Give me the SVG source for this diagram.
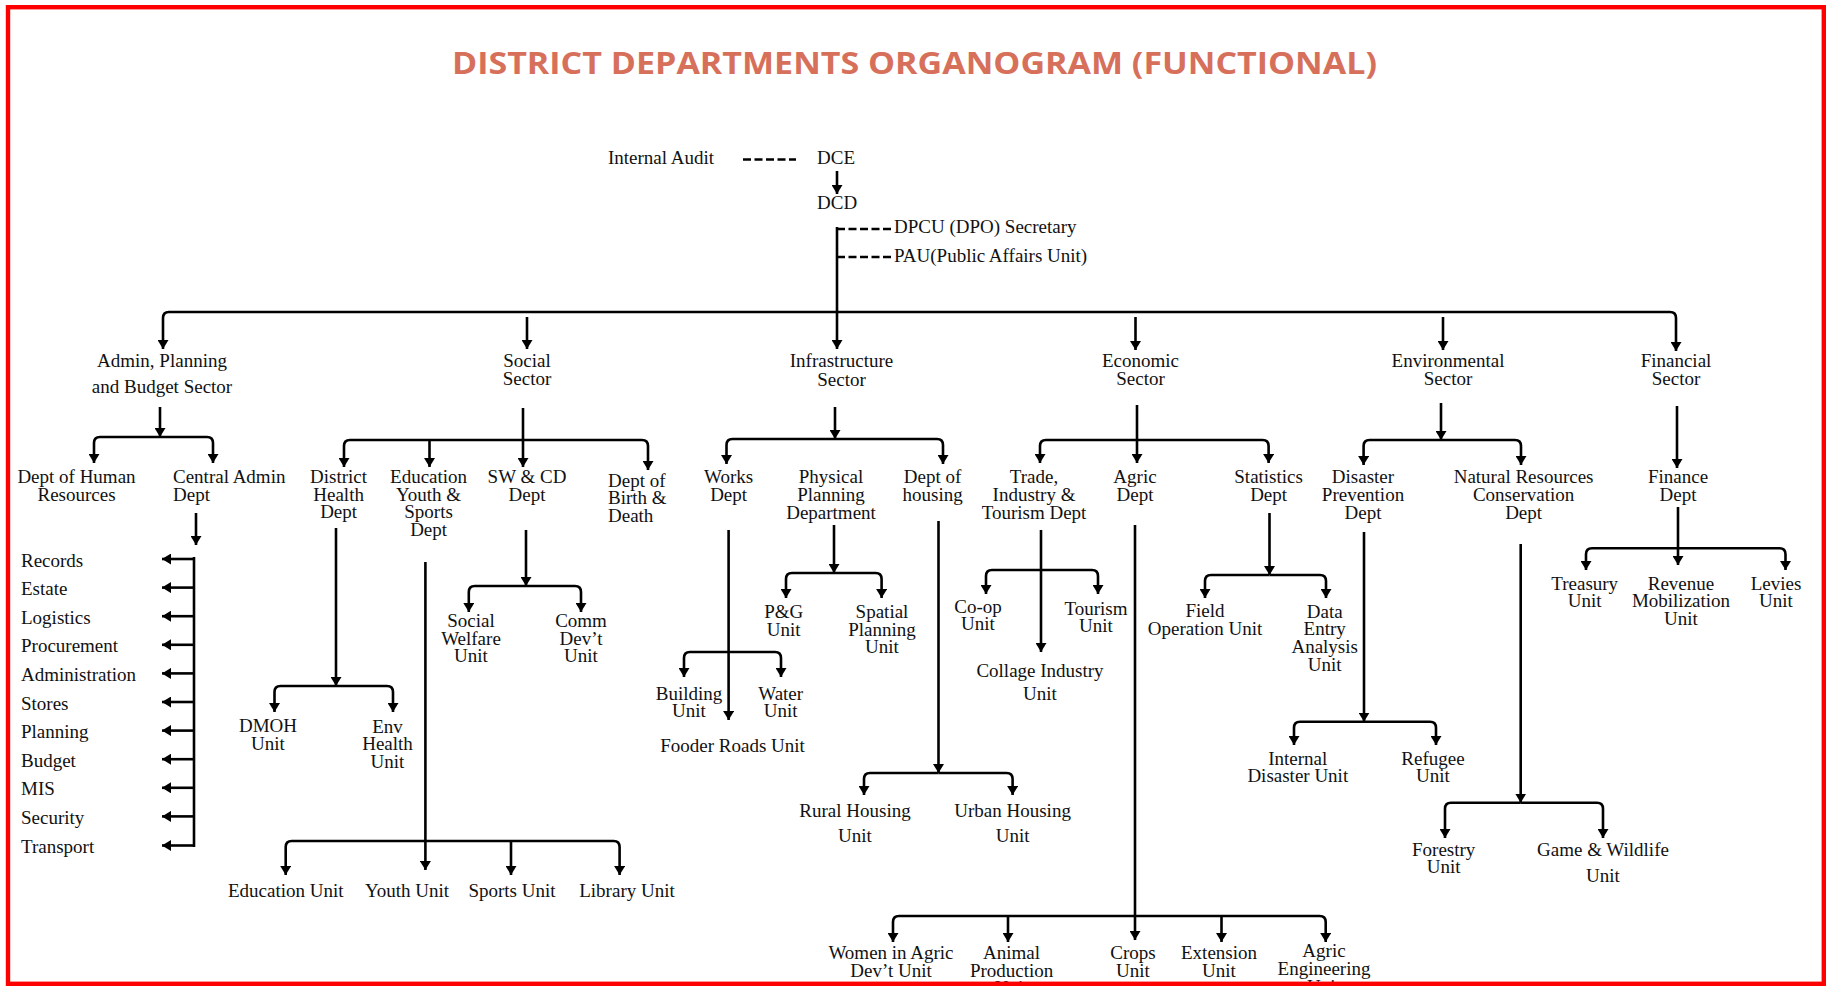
<svg xmlns="http://www.w3.org/2000/svg" width="1830" height="986" viewBox="0 0 1830 986">
<style>
text{font-family:"Liberation Serif","Times New Roman",serif;font-size:19px;fill:#111}
.m{text-anchor:middle}
.title{font-family:"Open Sans","Liberation Sans",sans-serif;font-weight:700;font-size:30px;fill:#D7705B}
.c{fill:none;stroke:#000;stroke-width:2.6}
.d{fill:none;stroke:#000;stroke-width:2.6;stroke-dasharray:8 3.5}
.a{marker-end:url(#ah)}
</style>
<defs>
<marker id="ah" markerUnits="userSpaceOnUse" markerWidth="11" markerHeight="11" refX="9" refY="5.5" orient="auto">
<path d="M0,0 L9,5.5 L0,11 Z" fill="#000"/>
</marker>
<clipPath id="clip"><rect x="0" y="0" width="1830" height="982"/></clipPath>
</defs>
<rect x="0" y="0" width="1830" height="986" fill="#fff"/>
<g clip-path="url(#clip)">
<text id="title" class="title m" x="914.5" y="74" textLength="925" lengthAdjust="spacingAndGlyphs">DISTRICT DEPARTMENTS ORGANOGRAM (FUNCTIONAL)</text>

<g id="connectors">
<path class="d" d="M743,159.5 H796"/>
<path class="c a" d="M837,171 V194"/>
<path class="d" d="M837,229 H891"/>
<path class="d" d="M837,257 H891"/>
<path class="c a" d="M837,227 V349"/>
<path class="c a" d="M837,312 H169 Q163,312 163,318 V349"/>
<path class="c a" d="M837,312 H1670 Q1676,312 1676,318 V351"/>
<path class="c a" d="M527,317 V349"/>
<path class="c a" d="M1135.5,317 V350"/>
<path class="c a" d="M1443,317 V350"/>

<!-- Admin -->
<path class="c a" d="M160,407 V437"/>
<path class="c a" d="M160,437 H100 Q94,437 94,443 V463"/>
<path class="c a" d="M160,437 H207 Q213,437 213,443 V463"/>
<path class="c a" d="M196,513 V545"/>
<path class="c" d="M194,557 V847"/>
<path class="c a" d="M194,559 H162"/>
<path class="c a" d="M194,587.6 H162"/>
<path class="c a" d="M194,616.2 H162"/>
<path class="c a" d="M194,644.8 H162"/>
<path class="c a" d="M194,673.4 H162"/>
<path class="c a" d="M194,702 H162"/>
<path class="c a" d="M194,730.6 H162"/>
<path class="c a" d="M194,759.2 H162"/>
<path class="c a" d="M194,787.8 H162"/>
<path class="c a" d="M194,816.4 H162"/>
<path class="c a" d="M194,845.5 H162"/>

<!-- Social -->
<path class="c a" d="M523,408 V467"/>
<path class="c a" d="M523,440 H350 Q344,440 344,446 V467"/>
<path class="c a" d="M523,440 H642 Q648,440 648,446 V470"/>
<path class="c a" d="M429.5,440 V467"/>
<path class="c a" d="M336,528 V686"/>
<path class="c a" d="M336,686 H280.5 Q274.5,686 274.5,692 V712"/>
<path class="c a" d="M336,686 H387 Q393,686 393,692 V712"/>
<path class="c a" d="M425.4,562 V870"/>
<path class="c a" d="M425.4,841 H291.7 Q285.7,841 285.7,847 V875"/>
<path class="c a" d="M425.4,841 H613.6 Q619.6,841 619.6,847 V875"/>
<path class="c a" d="M511,841 V875"/>
<path class="c a" d="M526,530 V586"/>
<path class="c a" d="M526,586 H474.8 Q468.8,586 468.8,592 V612"/>
<path class="c a" d="M526,586 H575 Q581,586 581,592 V612"/>

<!-- Infrastructure -->
<path class="c a" d="M835,407 V439"/>
<path class="c a" d="M835,439 H732.5 Q726.5,439 726.5,445 V464"/>
<path class="c a" d="M835,439 H937 Q943,439 943,445 V464"/>
<path class="c a" d="M728.6,530 V720"/>
<path class="c a" d="M728.6,652 H690 Q684,652 684,658 V677"/>
<path class="c a" d="M728.6,652 H775 Q781,652 781,658 V677"/>
<path class="c a" d="M834,525 V573"/>
<path class="c a" d="M834,573 H792 Q786,573 786,579 V598"/>
<path class="c a" d="M834,573 H875.6 Q881.6,573 881.6,579 V598"/>
<path class="c a" d="M938.5,521 V773"/>
<path class="c a" d="M938.5,773 H870 Q864,773 864,779 V795"/>
<path class="c a" d="M938.5,773 H1006.6 Q1012.6,773 1012.6,779 V795"/>

<!-- Economic -->
<path class="c a" d="M1137,405 V463"/>
<path class="c a" d="M1137,440 H1046 Q1040,440 1040,446 V463"/>
<path class="c a" d="M1137,440 H1262.6 Q1268.6,440 1268.6,446 V463"/>
<path class="c a" d="M1041,530 V652"/>
<path class="c a" d="M1041,570 H992 Q986,570 986,576 V594"/>
<path class="c a" d="M1041,570 H1092 Q1098,570 1098,576 V594"/>
<path class="c a" d="M1135,525 V940"/>
<path class="c a" d="M1135,916 H899 Q893,916 893,922 V942"/>
<path class="c a" d="M1135,916 H1319.7 Q1325.7,916 1325.7,922 V942"/>
<path class="c a" d="M1008,916 V942"/>
<path class="c a" d="M1221.5,916 V942"/>
<path class="c a" d="M1269.5,513 V575"/>
<path class="c a" d="M1269.5,575 H1211 Q1205,575 1205,581 V598"/>
<path class="c a" d="M1269.5,575 H1320 Q1326,575 1326,581 V598"/>

<!-- Environmental -->
<path class="c a" d="M1441,403 V440"/>
<path class="c a" d="M1441,440 H1369.6 Q1363.6,440 1363.6,446 V465"/>
<path class="c a" d="M1441,440 H1515 Q1521,440 1521,446 V465"/>
<path class="c a" d="M1364,532 V721.7"/>
<path class="c a" d="M1364,721.7 H1300 Q1294,721.7 1294,727.7 V745"/>
<path class="c a" d="M1364,721.7 H1430 Q1436,721.7 1436,727.7 V745"/>
<path class="c a" d="M1520.7,544 V802.7"/>
<path class="c a" d="M1520.7,802.7 H1451 Q1445,802.7 1445,808.7 V838"/>
<path class="c a" d="M1520.7,802.7 H1597 Q1603,802.7 1603,808.7 V838"/>

<!-- Financial -->
<path class="c a" d="M1677,406 V468"/>
<path class="c a" d="M1678,507 V565"/>
<path class="c a" d="M1678,548.3 H1592 Q1586,548.3 1586,554.3 V570"/>
<path class="c a" d="M1678,548.3 H1779.5 Q1785.5,548.3 1785.5,554.3 V570"/>
</g>

<g id="internal-audit"><text x="608" y="164">Internal Audit</text></g>
<g id="dce"><text x="817" y="164">DCE</text></g>
<g id="dcd"><text x="817" y="209">DCD</text></g>
<g id="dpcu"><text x="894" y="233">DPCU (DPO) Secretary</text></g>
<g id="pau"><text x="894" y="262">PAU(Public Affairs Unit)</text></g>

<g id="admin-sector"><text class="m" x="162" y="366.5">Admin, Planning</text><text class="m" x="162" y="392.5">and Budget Sector</text></g>
<g id="social-sector"><text class="m" x="527" y="366.5">Social</text><text class="m" x="527" y="385">Sector</text></g>
<g id="infrastructure-sector"><text class="m" x="841.5" y="367">Infrastructure</text><text class="m" x="841.5" y="385.5">Sector</text></g>
<g id="economic-sector"><text class="m" x="1140.5" y="366.5">Economic</text><text class="m" x="1140.5" y="385">Sector</text></g>
<g id="environmental-sector"><text class="m" x="1448" y="366.5">Environmental</text><text class="m" x="1448" y="385">Sector</text></g>
<g id="financial-sector"><text class="m" x="1676" y="366.5">Financial</text><text class="m" x="1676" y="385">Sector</text></g>

<g id="hr-dept"><text class="m" x="76.5" y="483">Dept of Human</text><text class="m" x="76.5" y="500.5">Resources</text></g>
<g id="central-admin"><text x="173" y="483">Central Admin</text><text x="173" y="500.5">Dept</text></g>
<g id="records"><text x="21" y="566.5">Records</text></g>
<g id="estate"><text x="21" y="595.1">Estate</text></g>
<g id="logistics"><text x="21" y="623.7">Logistics</text></g>
<g id="procurement"><text x="21" y="652.3">Procurement</text></g>
<g id="administration"><text x="21" y="680.9">Administration</text></g>
<g id="stores"><text x="21" y="709.5">Stores</text></g>
<g id="planning"><text x="21" y="738.1">Planning</text></g>
<g id="budget"><text x="21" y="766.7">Budget</text></g>
<g id="mis"><text x="21" y="795.3">MIS</text></g>
<g id="security"><text x="21" y="823.9">Security</text></g>
<g id="transport"><text x="21" y="852.5">Transport</text></g>

<g id="district-health"><text class="m" x="338.6" y="483">District</text><text class="m" x="338.6" y="500.5">Health</text><text class="m" x="338.6" y="518">Dept</text></g>
<g id="education-dept"><text class="m" x="428.6" y="483">Education</text><text class="m" x="428.6" y="500.5">Youth &amp;</text><text class="m" x="428.6" y="518">Sports</text><text class="m" x="428.6" y="535.5">Dept</text></g>
<g id="swcd-dept"><text class="m" x="527" y="483">SW &amp; CD</text><text class="m" x="527" y="500.5">Dept</text></g>
<g id="birth-death"><text x="608" y="486.7">Dept of</text><text x="608" y="504.2">Birth &amp;</text><text x="608" y="521.7">Death</text></g>
<g id="dmoh"><text class="m" x="268" y="732">DMOH</text><text class="m" x="268" y="749.5">Unit</text></g>
<g id="env-health"><text class="m" x="387.5" y="732.5">Env</text><text class="m" x="387.5" y="750">Health</text><text class="m" x="387.5" y="767.5">Unit</text></g>
<g id="social-welfare"><text class="m" x="471" y="627.3">Social</text><text class="m" x="471" y="644.8">Welfare</text><text class="m" x="471" y="662.3">Unit</text></g>
<g id="comm-dev"><text class="m" x="581" y="627.3">Comm</text><text class="m" x="581" y="644.8">Dev’t</text><text class="m" x="581" y="662.3">Unit</text></g>
<g id="education-unit"><text class="m" x="285.7" y="897.3">Education Unit</text></g>
<g id="youth-unit"><text class="m" x="407" y="897.3">Youth Unit</text></g>
<g id="sports-unit"><text class="m" x="512" y="897.3">Sports Unit</text></g>
<g id="library-unit"><text class="m" x="627" y="897.3">Library Unit</text></g>

<g id="works-dept"><text class="m" x="728.6" y="483">Works</text><text class="m" x="728.6" y="500.5">Dept</text></g>
<g id="physical-planning"><text class="m" x="831" y="483">Physical</text><text class="m" x="831" y="500.5">Planning</text><text class="m" x="831" y="518.5">Department</text></g>
<g id="housing-dept"><text class="m" x="932.6" y="483">Dept of</text><text class="m" x="932.6" y="500.5">housing</text></g>
<g id="building-unit"><text class="m" x="689" y="700">Building</text><text class="m" x="689" y="717">Unit</text></g>
<g id="water-unit"><text class="m" x="780.7" y="700">Water</text><text class="m" x="780.7" y="717">Unit</text></g>
<g id="fooder-roads"><text class="m" x="732.6" y="751.7">Fooder Roads Unit</text></g>
<g id="pg-unit"><text class="m" x="783.7" y="617.7">P&amp;G</text><text class="m" x="783.7" y="635.5">Unit</text></g>
<g id="spatial-planning"><text class="m" x="882" y="617.7">Spatial</text><text class="m" x="882" y="635.5">Planning</text><text class="m" x="882" y="653.3">Unit</text></g>
<g id="rural-housing"><text class="m" x="855" y="816.7">Rural Housing</text><text class="m" x="855" y="841.7">Unit</text></g>
<g id="urban-housing"><text class="m" x="1012.6" y="816.7">Urban Housing</text><text class="m" x="1012.6" y="841.7">Unit</text></g>

<g id="trade-dept"><text class="m" x="1034" y="483">Trade,</text><text class="m" x="1034" y="500.5">Industry &amp;</text><text class="m" x="1034" y="518.5">Tourism Dept</text></g>
<g id="agric-dept"><text class="m" x="1135" y="483">Agric</text><text class="m" x="1135" y="500.5">Dept</text></g>
<g id="statistics-dept"><text class="m" x="1268.6" y="483">Statistics</text><text class="m" x="1268.6" y="500.5">Dept</text></g>
<g id="coop-unit"><text class="m" x="978" y="612.7">Co-op</text><text class="m" x="978" y="629.5">Unit</text></g>
<g id="tourism-unit"><text class="m" x="1096" y="615">Tourism</text><text class="m" x="1096" y="631.7">Unit</text></g>
<g id="collage-industry"><text class="m" x="1040" y="676.7">Collage Industry</text><text class="m" x="1040" y="700">Unit</text></g>
<g id="field-operation"><text class="m" x="1205" y="616.7">Field</text><text class="m" x="1205" y="635">Operation Unit</text></g>
<g id="data-entry"><text class="m" x="1324.7" y="617.7">Data</text><text class="m" x="1324.7" y="635.2">Entry</text><text class="m" x="1324.7" y="653">Analysis</text><text class="m" x="1324.7" y="671">Unit</text></g>
<g id="women-agric"><text class="m" x="891" y="959.3">Women in Agric</text><text class="m" x="891" y="976.7">Dev’t Unit</text></g>
<g id="animal-production"><text class="m" x="1011.6" y="959.3">Animal</text><text class="m" x="1011.6" y="976.7">Production</text><text class="m" x="1011.6" y="994">Unit</text></g>
<g id="crops-unit"><text class="m" x="1133" y="959.3">Crops</text><text class="m" x="1133" y="976.7">Unit</text></g>
<g id="extension-unit"><text class="m" x="1219" y="959.3">Extension</text><text class="m" x="1219" y="976.7">Unit</text></g>
<g id="agric-engineering"><text class="m" x="1324" y="956.7">Agric</text><text class="m" x="1324" y="975">Engineering</text><text class="m" x="1324" y="993">Unit</text></g>

<g id="disaster-prevention"><text class="m" x="1363" y="483">Disaster</text><text class="m" x="1363" y="500.5">Prevention</text><text class="m" x="1363" y="518.5">Dept</text></g>
<g id="natural-resources"><text class="m" x="1523.6" y="483">Natural Resources</text><text class="m" x="1523.6" y="500.5">Conservation</text><text class="m" x="1523.6" y="518.5">Dept</text></g>
<g id="internal-disaster"><text class="m" x="1297.8" y="765">Internal</text><text class="m" x="1297.8" y="781.7">Disaster Unit</text></g>
<g id="refugee-unit"><text class="m" x="1433" y="765">Refugee</text><text class="m" x="1433" y="781.7">Unit</text></g>
<g id="forestry-unit"><text class="m" x="1443.7" y="856">Forestry</text><text class="m" x="1443.7" y="873.3">Unit</text></g>
<g id="game-wildlife"><text class="m" x="1603" y="856">Game &amp; Wildlife</text><text class="m" x="1603" y="881.7">Unit</text></g>

<g id="finance-dept"><text class="m" x="1678" y="482.7">Finance</text><text class="m" x="1678" y="500.5">Dept</text></g>
<g id="treasury-unit"><text class="m" x="1584.7" y="590">Treasury</text><text class="m" x="1584.7" y="606.7">Unit</text></g>
<g id="revenue-unit"><text class="m" x="1681" y="590">Revenue</text><text class="m" x="1681" y="606.7">Mobilization</text><text class="m" x="1681" y="624.5">Unit</text></g>
<g id="levies-unit"><text class="m" x="1776" y="590">Levies</text><text class="m" x="1776" y="606.7">Unit</text></g>
</g>
<rect id="frame" x="8" y="7.2" width="1815.8" height="976.6" fill="none" stroke="#ff0000" stroke-width="4.4"/>
</svg>
